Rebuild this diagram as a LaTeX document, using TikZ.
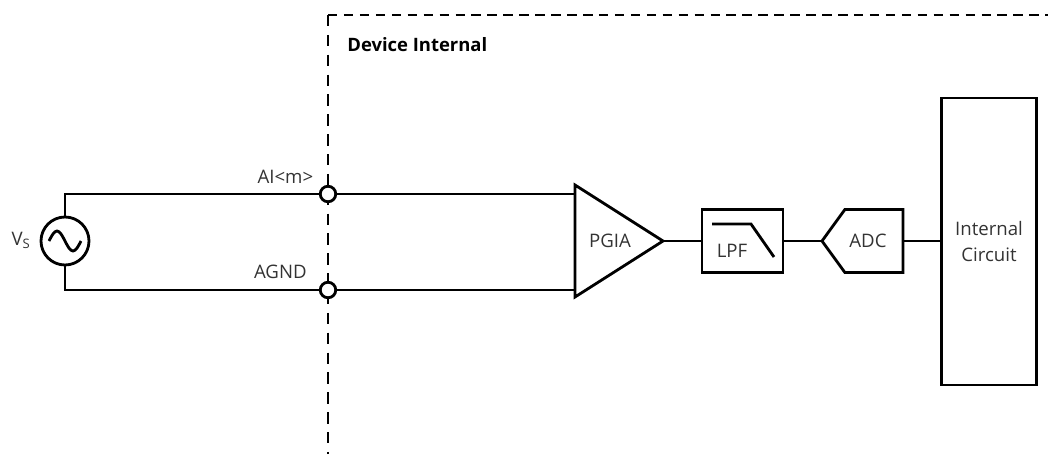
\documentclass[tikz,border=0pt]{standalone}
\usepackage{fontspec}
\setmainfont{Open Sans}
\usetikzlibrary{shapes.geometric,shapes.symbols}
\colorlet{labelgray}{black!80}
\tikzset{
  wire/.style={line width=1.6pt},
  boundary/.style={line width=1.6pt, dash pattern=on 6.5pt off 4.8pt},
  boundarytop/.style={line width=1.6pt, dash pattern=on 5.4pt off 3.67pt},
  block/.style={draw, line width=1.6pt, inner sep=0pt, outer sep=0pt, text=labelgray, font=\fontsize{10.6}{15.3}\selectfont},
  terminal/.style={circle, draw, fill=white, line width=1.6pt, minimum size=0.31cm, inner sep=0pt, outer sep=0pt},
  caption/.style={inner sep=0pt, text=labelgray, font=\fontsize{10.6}{15.3}\selectfont},
}
\begin{document}
\begin{tikzpicture}
      \useasboundingbox (0,0) rectangle (20.96,9.08);
      \coordinate (corner) at (6.56,8.78);
      \coordinate (bottomend) at (6.56,0);
      \coordinate (rightend) at (20.96,8.78);
      \draw[boundary] (corner) -- (bottomend);
      \draw[boundarytop] (corner) -- (rightend);
      \node[caption, anchor=west, text=black, font=\fontsize{10.5}{12}\selectfont\bfseries] (devicelabel) at (6.94,8.18) {Device Internal};

      \node[terminal] (ai) at (6.56,5.2) {};
      \node[terminal] (agnd) at (6.56,3.28) {};
      \node[block, circle, minimum size=0.96cm] (vs) at (1.3,4.26) {};
      \node[block, isosceles triangle, isosceles triangle stretches, minimum width=2.24cm, minimum height=1.76cm, anchor=apex] (pgia) at (13.26,4.26) {};
      \node[block, minimum width=1.62cm, minimum height=1.26cm] (lpf) at (14.85,4.26) {};
      \node[block, signal, signal to=west, signal pointer angle=108, minimum width=1.62cm, minimum height=1.26cm, anchor=east] (adc) at (18.06,4.26) {};
      \node[block, align=center, minimum width=1.9cm, minimum height=5.74cm] (circuit) at (19.78,4.25) {Internal\\Circuit};

      \node[caption, anchor=east] (ailabel) at (6.27,5.54) {AI<m>};
      \node[caption, anchor=east] (agndlabel) at (6.14,3.64) {AGND};
      \node[caption, anchor=east] (vslabel) at (0.62,4.28) {V\textsubscript{S}};
      \node[caption] (pgialabel) at (12.2,4.26) {PGIA};
      \node[caption] (lpflabel) at (14.64,4.06) {LPF};
      \node[caption] (adclabel) at (17.36,4.26) {ADC};

      \coordinate (aicorner) at (1.3,5.2);
      \coordinate (agndcorner) at (1.3,3.28);
      \draw[wire] (vs.north) -- (aicorner) -- (ai.west);
      \draw[wire] (vs.south) -- (agndcorner) -- (agnd.west);
      \draw[wire] (ai.east) -- (ai.east -| pgia.lower side);
      \draw[wire] (agnd.east) -- (agnd.east -| pgia.lower side);
      \draw[wire] (pgia.apex) -- (lpf.west);
      \draw[wire] (lpf.east) -- (adc.west);
      \draw[wire] (adc.east) -- (adc.east -| circuit.west);

      \draw[wire] (0.98,4.26) sin ++(0.16,0.2) cos ++(0.16,-0.2) sin ++(0.16,-0.2) cos ++(0.16,0.2);
      \draw[wire] (14.24,4.6) -- (15.02,4.6) -- (15.48,3.94);
    \end{tikzpicture}
\end{document}
